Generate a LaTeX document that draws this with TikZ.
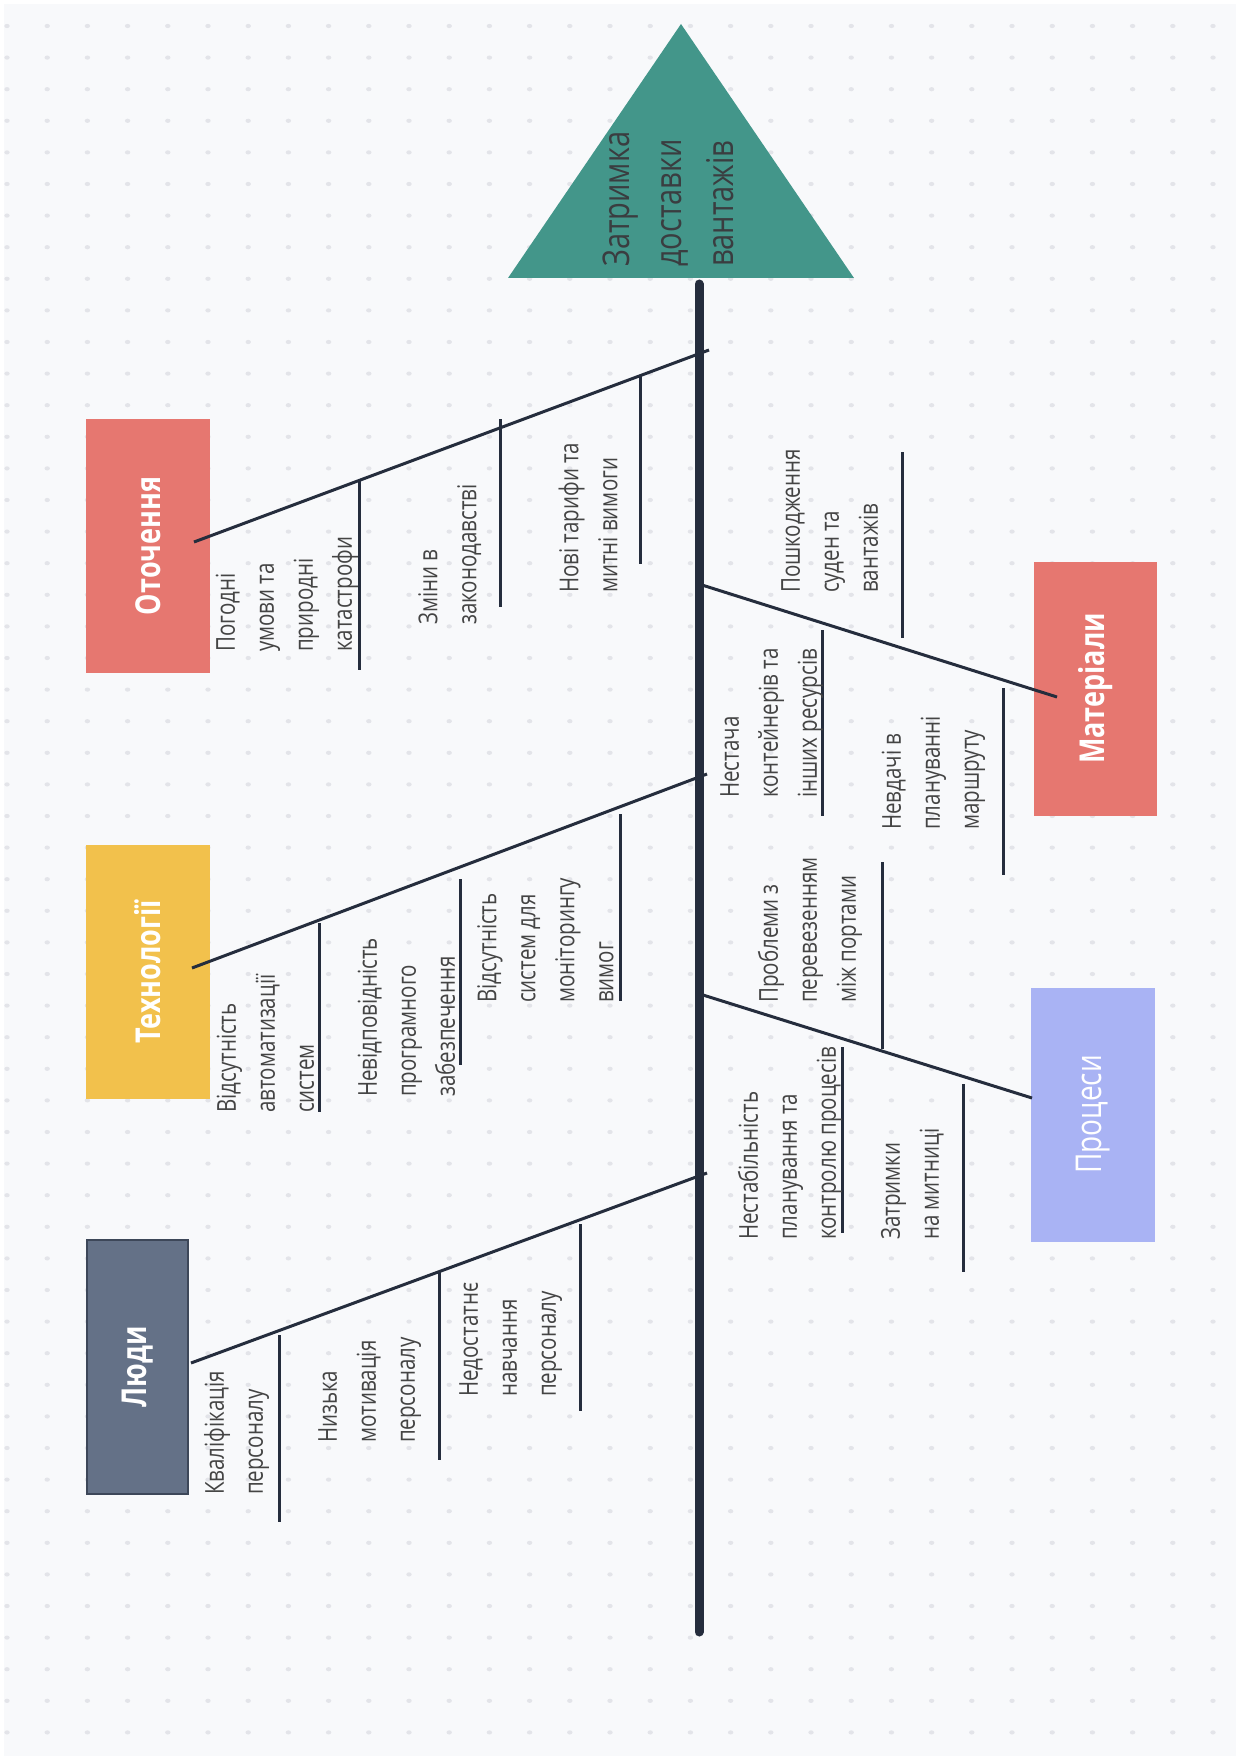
\documentclass[tikz,border=0pt]{standalone}
\usepackage{fontspec}
\setmainfont{Open Sans}
\usepackage{graphicx}
\definecolor{bgc}{HTML}{F8F9FB}
\definecolor{dotc}{HTML}{E3E4E9}
\definecolor{spinec}{HTML}{252D3D}
\definecolor{tealc}{HTML}{43968A}
\definecolor{salmc}{HTML}{E67770}
\definecolor{yellc}{HTML}{F2C14C}
\definecolor{lavc}{HTML}{A9B3F4}
\definecolor{slatec}{HTML}{647187}
\definecolor{slatedk}{HTML}{3D4759}
\definecolor{txtc}{HTML}{444444}
\definecolor{titlec}{HTML}{3A3D40}
\newcommand{\stretchtxt}[1]{\scalebox{1}[1.27]{\begin{tabular}{@{}l@{}}#1\end{tabular}}}
\newcommand{\stretchone}[1]{\scalebox{1}[1.27]{#1}}
\newcommand{\ribline}[4]{\coordinate (#1a) at (#2,#3); \coordinate (#1b) at (#2,#4); \draw[rib] (#1a) -- (#1b);}
\tikzset{
  cause/.style={rotate=90, anchor=west, inner sep=0pt, text=txtc, font=\fontsize{20.5}{30.7}\selectfont},
  titletxt/.style={rotate=90, anchor=west, inner sep=0pt, text=titlec, font=\fontsize{29}{41.3}\selectfont},
  catbox/.style={rotate=90, minimum width=254pt, inner sep=0pt, text=white, font=\bfseries\fontsize{27}{34}\selectfont},
  bone/.style={line width=3pt, draw=spinec},
  rib/.style={line width=3pt, draw=spinec},
  spinestyle/.style={line width=9pt, draw=spinec, line cap=round}
}
\begin{document}
\begin{tikzpicture}[x=1pt,y=-1pt]
\useasboundingbox (0,0) rectangle (1240,1760);
\fill[white] (0,0) rectangle (1240,1760);
\fill[bgc] (4,4) rectangle (1236,1756);
\foreach \i in {0,...,30}{\foreach \j in {0,...,54}{\fill[dotc] ({7+40.2*\i},{26+31.6*\j}) ellipse (2.7pt and 2.1pt);}}

% spine
\coordinate (sTop) at (699,284);
\coordinate (sBot) at (699,1632);
\draw[spinestyle] (sTop) -- (sBot);

% head
\fill[tealc] (681,24) -- (854,278) -- (508,278) -- cycle;
\node[titletxt] (head) at (671,267) {\stretchtxt{Затримка\\доставки\\вантажів}};

% category boxes
\node[catbox, fill=salmc, minimum height=124pt] (ot) at (148,546) {\stretchone{Оточення}};
\node[catbox, fill=yellc, minimum height=124pt] (tech) at (148,972) {\stretchone{Технології}};
\node[catbox, fill=slatec, draw=slatedk, line width=2pt, minimum height=101pt] (ppl) at (137.5,1367) {\stretchone{Люди}};
\node[catbox, fill=salmc, minimum height=123pt] (mat) at (1095.5,688.5) {\stretchone{Матеріали}};
\node[catbox, fill=lavc, minimum height=124pt, font=\fontsize{28}{34}\selectfont] (proc) at (1093,1114.5) {\stretchone{Процеси}};

% branches
\coordinate (otIn) at (194,542);   \coordinate (otSp) at (709,350);
\coordinate (teIn) at (192,968);   \coordinate (teSp) at (707,774);
\coordinate (peIn) at (191,1363);  \coordinate (peSp) at (707,1173);
\coordinate (maSp) at (702,585);   \coordinate (maIn) at (1057,697);
\coordinate (prSp) at (703,995);   \coordinate (prIn) at (1032,1098);
\draw[bone] (otIn) -- (otSp);
\draw[bone] (teIn) -- (teSp);
\draw[bone] (peIn) -- (peSp);
\draw[bone] (maSp) -- (maIn);
\draw[bone] (prSp) -- (prIn);

% ribs
\ribline{o1}{359}{480}{670}
\ribline{o2}{500}{419}{607}
\ribline{o3}{640}{375}{564}
\ribline{t1}{319}{923}{1112}
\ribline{t2}{460}{879}{1065}
\ribline{t3}{620}{814}{1001}
\ribline{p1}{279}{1335}{1522}
\ribline{p2}{439}{1272}{1460}
\ribline{p3}{580}{1224}{1411}
\ribline{m1}{902}{452}{638}
\ribline{m2}{822}{630}{816}
\ribline{m3}{1003}{688}{875}
\ribline{c1}{882}{862}{1049}
\ribline{c2}{842}{1047}{1233}
\ribline{c3}{963}{1084}{1272}

% cause texts
\node[cause] (o1t) at (285.5,652) {\stretchtxt{Погодні\\умови та\\природні\\катастрофи}};
\node[cause] (o2t) at (449,625) {\stretchtxt{Зміни в\\законодавстві}};
\node[cause] (o3t) at (590,593) {\stretchtxt{Нові тарифи та\\митні вимоги}};
\node[cause] (t1t) at (267,1113) {\stretchtxt{Відсутність\\автоматизації\\систем}};
\node[cause] (t2t) at (408,1097) {\stretchtxt{Невідповідність\\програмного\\забезпечення}};
\node[cause] (t3t) at (547,1003) {\stretchtxt{Відсутність\\систем для\\моніторингу\\вимог}};
\node[cause] (p1t) at (235.5,1495) {\stretchtxt{Кваліфікація\\персоналу}};
\node[cause] (p2t) at (368,1443) {\stretchtxt{Низька\\мотивація\\персоналу}};
\node[cause] (p3t) at (509,1397) {\stretchtxt{Недостатнє\\навчання\\персоналу}};
\node[cause] (m1t) at (831,593) {\stretchtxt{Пошкодження\\суден та\\вантажів}};
\node[cause] (m2t) at (770,798) {\stretchtxt{Нестача\\контейнерів та\\інших ресурсів}};
\node[cause] (m3t) at (932,830) {\stretchtxt{Невдачі в\\плануванні\\маршруту}};
\node[cause] (c1t) at (809,1003) {\stretchtxt{Проблеми з\\перевезенням\\між портами}};
\node[cause] (c2t) at (789,1240) {\stretchtxt{Нестабільність\\планування та\\контролю процесів}};
\node[cause] (c3t) at (911.5,1240) {\stretchtxt{Затримки\\на митниці}};
\end{tikzpicture}
\end{document}
